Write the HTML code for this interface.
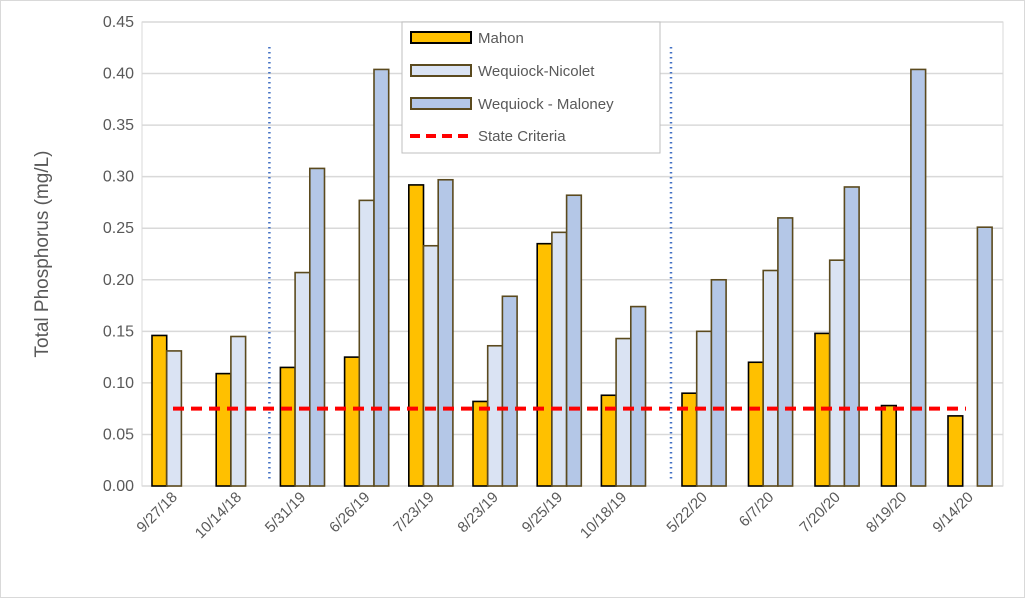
<!DOCTYPE html>
<html><head><meta charset="utf-8"><style>
body{margin:0;background:#fff;font-family:"Liberation Sans",sans-serif}
svg text{font-family:"Liberation Sans",sans-serif}
</style></head><body>
<svg width="1025" height="598" id="c">
<rect x="0.5" y="0.5" width="1024" height="597" fill="#fff" stroke="#d9d9d9"/>
<g id="grid"></g><g id="bars"></g><g id="overlay"></g><g id="axes"></g>
<text transform="translate(48,254) rotate(-90)" text-anchor="middle" font-size="19" fill="#595959">Total Phosphorus (mg/L)</text>
<g>
<rect x="402" y="22" width="258" height="131" fill="#fff" stroke="#bfbfbf"/>
<rect x="411" y="32" width="60" height="11" fill="#ffc000" stroke="#000" stroke-width="2"/>
<text x="478" y="43" font-size="15" fill="#595959">Mahon</text>
<rect x="411" y="65" width="60" height="11" fill="#dae3f3" stroke="#5b4a1e" stroke-width="2"/>
<text x="478" y="76" font-size="15" fill="#595959">Wequiock-Nicolet</text>
<rect x="411" y="98" width="60" height="11" fill="#b4c7e7" stroke="#5b4a1e" stroke-width="2"/>
<text x="478" y="109" font-size="15" fill="#595959">Wequiock - Maloney</text>
<line x1="410" y1="136" x2="472" y2="136" stroke="#ff0000" stroke-width="4" stroke-dasharray="10,6"/>
<text x="478" y="141" font-size="15" fill="#595959">State Criteria</text>
</g>
</svg>
<script>
const categories=["9/27/18","10/14/18","5/31/19","6/26/19","7/23/19","8/23/19","9/25/19","10/18/19","5/22/20","6/7/20","7/20/20","8/19/20","9/14/20"];
const mahon=[0.146,0.109,0.115,0.125,0.292,0.082,0.235,0.088,0.090,0.120,0.148,0.078,0.068];
const nicolet=[0.131,0.145,0.207,0.277,0.233,0.136,0.246,0.143,0.150,0.209,0.219,null,null];
const maloney=[null,null,0.308,0.404,0.297,0.184,0.282,0.174,0.200,0.260,0.290,0.404,0.251];
const criteria=0.075;
const yTicks=[0,0.05,0.1,0.15,0.2,0.25,0.3,0.35,0.4,0.45];
const dividers=[2,8];
const L=142,R=1003,T=22,B=486;
const bw=14.7;
const y=v=>B-(v/0.45)*(B-T);
const xLeft=i=>i<8?152+64.2*i:682+66.5*(i-8);
const xc=i=>xLeft(i)+1.5*bw;
const NS="http://www.w3.org/2000/svg";
function mk(tag,a,p){const e=document.createElementNS(NS,tag);for(const k in a)e.setAttribute(k,a[k]);p.appendChild(e);return e;}
const grid=document.getElementById('grid'),bars=document.getElementById('bars'),ov=document.getElementById('overlay'),ax=document.getElementById('axes');
mk('rect',{x:L,y:T,width:R-L,height:B-T,fill:'none',stroke:'#d9d9d9'},grid);
yTicks.forEach(t=>{
 const l=mk('line',{x1:L,x2:R,y1:y(t),y2:y(t),stroke:'#d9d9d9','stroke-width':1.5},grid);
 
 
 const tx=mk('text',{x:L-8,y:y(t)+5,'text-anchor':'end','font-size':16,fill:'#595959'},ax);
 tx.textContent=t.toFixed(2);
 
 
});
const series=[[mahon,'#ffc000','#000','bar-mahon'],[nicolet,'#dae3f3','#5b4a1e','bar-nicolet'],[maloney,'#b4c7e7','#5b4a1e','bar-maloney']];
categories.forEach((c,i)=>{
 series.forEach((s,j)=>{
  const v=s[0][i]; if(v==null)return;
  const x=xLeft(i)+j*bw;
  const r=mk('rect',{x:x,y:y(v),width:bw,height:B-y(v),fill:s[1],stroke:s[2],'stroke-width':1.6},bars);
  
  
 });
 const tx=mk('text',{transform:`translate(${xc(i)+4},${B+12}) rotate(-45)`,'text-anchor':'end','font-size':15,fill:'#595959'},ax);
 tx.textContent=c;
 
 
});
dividers.forEach(d=>{
 const xd=xLeft(d)-11;
 const l=mk('line',{x1:xd,x2:xd,y1:47,y2:480,stroke:'#4472c4','stroke-width':2.5,'stroke-dasharray':'1.5,3.5'},ov);
 
 
});
const cl=mk('line',{x1:173,x2:966,y1:y(criteria),y2:y(criteria),stroke:'#ff0000','stroke-width':4,'stroke-dasharray':'11,7'},ov);


</script>
</body></html>
